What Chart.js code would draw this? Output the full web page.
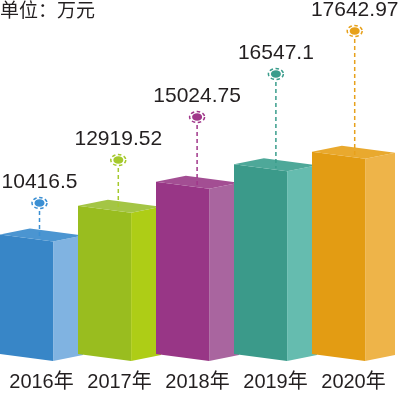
<!DOCTYPE html>
<html>
<head>
<meta charset="utf-8">
<script src="https://cdn.jsdelivr.net/npm/chart.js@4.4.0/dist/chart.umd.min.js"></script>
<style>
  html, body { margin: 0; padding: 0; background: #fff; }
  #wrap { width: 400px; height: 393px; }
</style>
</head>
<body>
<div id="wrap"><canvas id="chartIngresos"></canvas></div>
<script>
// datos
const years = ['2016年', '2017年', '2018年', '2019年', '2020年'];
const values = [10416.5, 12919.52, 15024.75, 16547.1, 17642.97];
const unitText = '单位：万元';

// colores por cara
const frontColors = ['#3886c7', '#99bd1f', '#983686', '#3b9a8a', '#e39c13'];
const sideColors  = ['#80b3e1', '#aecd16', '#a9659f', '#65bcaf', '#eeb449'];
const topColors   = ['#4b95d1', '#a4c545', '#a34e93', '#4ea899', '#e9a92e'];
const markColors  = ['#3b8fd3', '#a5c92c', '#a0378a', '#3a9d8c', '#e7a11b'];

const TEXT = '#231f20';

const cajas3d = {
    id: 'cajas3d',
    beforeDatasetDraw: function () { return false; },
    afterDatasetsDraw: function (chart) {
        const ctx = chart.ctx;
        const meta = chart.getDatasetMeta(0);
        const area = chart.chartArea;
        const n = meta.data.length;
        const D = 7, R = 6;

        meta.data.forEach(function (bar, i) {
            const xL = bar.x - bar.width / 2;
            const xR = xL + bar.width * 0.64;
            const xE = xL + bar.width;
            const side = xE - xR;
            const yT = bar.y, yB = bar.base;

            // cara frontal
            ctx.fillStyle = frontColors[i];
            ctx.beginPath();
            ctx.moveTo(xL, yT); ctx.lineTo(xR, yT + D);
            ctx.lineTo(xR, yB + D); ctx.lineTo(xL, yB);
            ctx.closePath(); ctx.fill();

            // cara lateral
            ctx.fillStyle = sideColors[i];
            ctx.beginPath();
            ctx.moveTo(xR, yT + D); ctx.lineTo(xE, yT + D - R);
            ctx.lineTo(xE, yB + D - R); ctx.lineTo(xR, yB + D);
            ctx.closePath(); ctx.fill();

            // cara superior
            ctx.fillStyle = topColors[i];
            ctx.beginPath();
            ctx.moveTo(xL, yT); ctx.lineTo(xR, yT + D);
            ctx.lineTo(xE, yT + D - R); ctx.lineTo(xL + side, yT - R);
            ctx.closePath(); ctx.fill();

            // marcador y linea punteada
            const mx = bar.x - 2 + i * 0.8;
            const my = area.top + 21 + (n - 1 - i) * 43;

            ctx.save();
            ctx.strokeStyle = markColors[i];
            ctx.lineWidth = 1.5;
            ctx.setLineDash([4, 3]);
            ctx.beginPath();
            ctx.moveTo(mx, my + 8);
            ctx.lineTo(mx, yT + 4);
            ctx.stroke();

            ctx.setLineDash([3.5, 2.5]);
            ctx.beginPath();
            ctx.ellipse(mx, my, 7.5, 5.5, 0, 0, Math.PI * 2);
            ctx.stroke();
            ctx.setLineDash([]);
            ctx.fillStyle = markColors[i];
            ctx.beginPath();
            ctx.ellipse(mx, my, 5, 3.8, 0, 0, Math.PI * 2);
            ctx.fill();

            // valor
            ctx.fillStyle = TEXT;
            ctx.font = '21px "Liberation Sans", Arial, sans-serif';
            ctx.textAlign = 'center';
            ctx.textBaseline = 'middle';
            ctx.fillText(String(values[i]), mx, my - 21);
            ctx.restore();
        });

        // unidad
        ctx.save();
        ctx.fillStyle = TEXT;
        ctx.font = '19px "Noto Sans CJK SC", sans-serif';
        ctx.textAlign = 'left';
        ctx.textBaseline = 'top';
        ctx.fillText(unitText, 0, 0);
        ctx.restore();
    }
};

new Chart(document.getElementById('chartIngresos'), {
    type: 'bar',
    data: {
        labels: years,
        datasets: [{
            data: values,
            backgroundColor: frontColors,
            barThickness: 83,
            clip: false
        }]
    },
    options: {
        responsive: true,
        maintainAspectRatio: false,
        animation: false,
        layout: {
            padding: { top: 10, left: 2.5, right: 7.5, bottom: 0 }
        },
        plugins: {
            legend: { display: false },
            tooltip: { enabled: false }
        },
        scales: {
            x: {
                offset: true,
                grid: { display: false, drawTicks: false },
                border: { display: false },
                ticks: {
                    color: TEXT,
                    padding: 16,
                    maxRotation: 0,
                    autoSkip: false,
                    font: { size: 20, family: '"Liberation Sans", "Noto Sans CJK SC", sans-serif' }
                },
                afterFit: function (scale) {
                    scale.paddingLeft = 0;
                    scale.paddingRight = 0;
                    scale.height = 39;
                }
            },
            y: {
                display: false,
                min: 0,
                max: 30000
            }
        }
    },
    plugins: [cajas3d]
});
</script>
</body>
</html>
